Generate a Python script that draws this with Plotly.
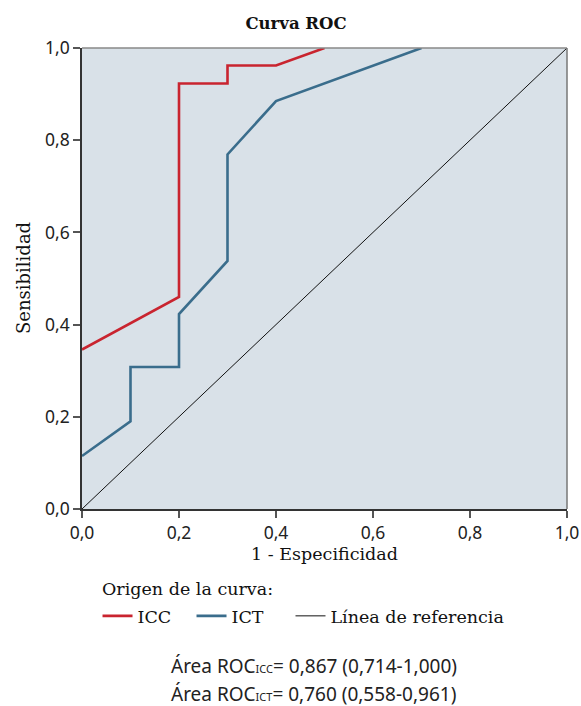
import plotly.graph_objects as go

# Data
icc_x = [0.0, 0.2, 0.2, 0.3, 0.3, 0.4, 0.5]
icc_y = [0.346, 0.46, 0.923, 0.923, 0.962, 0.962, 1.0]
ict_x = [0.0, 0.1, 0.1, 0.2, 0.2, 0.3, 0.3, 0.4, 0.7]
ict_y = [0.115, 0.19, 0.308, 0.308, 0.423, 0.538, 0.769, 0.885, 1.0]
ref_x = [0.0, 1.0]
ref_y = [0.0, 1.0]
tick_vals = [0.0, 0.2, 0.4, 0.6, 0.8, 1.0]
tick_text = ["0,0", "0,2", "0,4", "0,6", "0,8", "1,0"]
area_lines = [
    ("ICC", "0,867 (0,714-1,000)"),
    ("ICT", "0,760 (0,558-0,961)"),
]

SERIF = "DejaVu Serif"
SANS = "Noto Sans"
RED = "#c9242f"
BLUE = "#3a6d8c"
TXT = "#111111"

fig = go.Figure()
fig.add_trace(go.Scatter(x=icc_x, y=icc_y, mode="lines", name="ICC", legend="legend",
                         line=dict(color=RED, width=2.6)))
fig.add_trace(go.Scatter(x=ict_x, y=ict_y, mode="lines", name="ICT", legend="legend2",
                         line=dict(color=BLUE, width=2.6)))
fig.add_trace(go.Scatter(x=ref_x, y=ref_y, mode="lines", name="Línea de referencia",
                         legend="legend3", line=dict(color=TXT, width=1)))

axis_common = dict(
    range=[0, 1], tickvals=tick_vals, ticktext=tick_text, automargin=False,
    showgrid=False, zeroline=False, showline=True, linecolor="#333333", linewidth=1.5,
    ticks="outside", ticklen=7, tickcolor="#555555", tickwidth=1.5,
    tickfont=dict(family=SANS, size=17.5, color="#222222"),
)

leg_common = dict(orientation="h", xanchor="left", y=-0.193, yanchor="top",
                  font=dict(family=SERIF, size=17.5, color=TXT),
                  itemwidth=30, bgcolor="rgba(0,0,0,0)")

fig.update_layout(
    width=581, height=706,
    margin=dict(l=82, r=14, t=48, b=197, autoexpand=False),
    paper_bgcolor="white", plot_bgcolor="#d9e1e8",
    title=dict(text="<b>Curva ROC</b>", x=0.5095, xanchor="center", y=0.9674, yanchor="middle",
               font=dict(family=SERIF, size=16.5, color=TXT)),
    xaxis=dict(**axis_common,
               title=dict(text="1 - Especificidad", standoff=4,
                          font=dict(family=SERIF, size=17.5, color=TXT))),
    yaxis=dict(**axis_common),
    showlegend=True,
    legend=dict(x=0.032, **leg_common),
    legend2=dict(x=0.2258, **leg_common),
    legend3=dict(x=0.4299, **leg_common),
)

fig.add_annotation(text="Sensibilidad", xref="paper", yref="paper",
                   x=-0.1206, y=0.5, xanchor="center", yanchor="middle", textangle=-90,
                   showarrow=False, font=dict(family=SERIF, size=18, color=TXT))

fig.add_annotation(text="Origen de la curva:", xref="paper", yref="paper",
                   x=0.0371, y=-0.1735, xanchor="left", yanchor="middle", showarrow=False,
                   font=dict(family=SERIF, size=17.5, color=TXT))

# plot frame: grey top and right edges
fig.add_shape(type="line", xref="paper", yref="paper", x0=0, x1=1, y0=1, y1=1,
              line=dict(color="#888888", width=1.5))
fig.add_shape(type="line", xref="paper", yref="paper", x0=1, x1=1, y0=0, y1=1,
              line=dict(color="#777777", width=1.5))

for i, (sub, val) in enumerate(area_lines):
    fig.add_annotation(
        text=f"Área ROC<span style='font-size:11px'>{sub}</span>= {val}",
        xref="paper", yref="paper", x=0.478, y=-0.3406 - i * 0.0607,
        xanchor="center", yanchor="middle", showarrow=False,
        font=dict(family=SANS, size=19, color="#222222"))

fig.write_html("out.html", config={"displayModeBar": False},
               post_script="document.body.style.margin='0';document.body.style.overflow='hidden';")
